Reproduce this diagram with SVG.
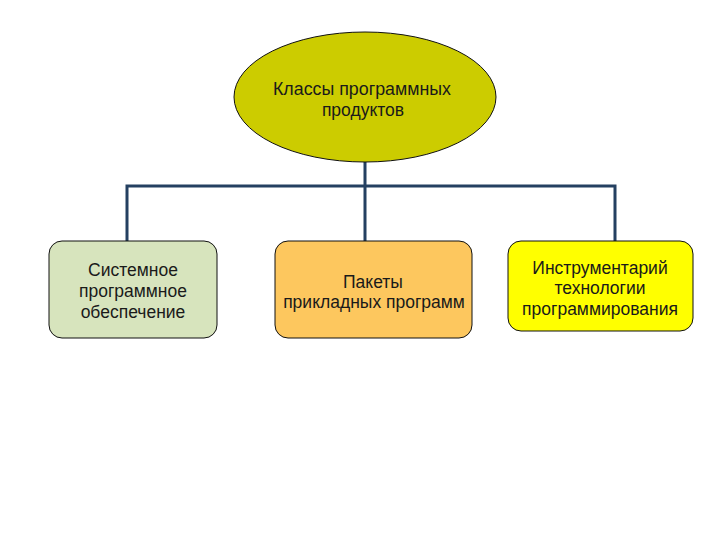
<svg xmlns="http://www.w3.org/2000/svg" width="720" height="540" viewBox="0 0 720 540">
<style>
.t{font-family:"Liberation Sans",Arial,sans-serif;fill:#1a1a1a;text-anchor:middle;font-size:17.5px}
.box{stroke:#111;stroke-width:1}
.c{fill:none;stroke:#254061;stroke-width:3}
</style>
<rect width="720" height="540" fill="#fff"/>
<g id="connectors">
<path class="c" d="M365 162V186M127 242V186H615V242M365 186V242"/>
</g>
<g id="root">
<ellipse cx="365" cy="97" rx="131" ry="65" fill="#CCCC00" stroke="#111" stroke-width="1"/>
<text class="t" x="362" y="95" textLength="178" lengthAdjust="spacingAndGlyphs">Классы программных</text>
<text class="t" x="363" y="116">продуктов</text>
</g>
<g id="system">
<rect class="box" x="49" y="241" width="168" height="97" rx="13" fill="#D7E4BD"/>
<text class="t" x="133" y="276">Системное</text>
<text class="t" x="133" y="297">программное</text>
<text class="t" x="133" y="318">обеспечение</text>
</g>
<g id="packages">
<rect class="box" x="275" y="241" width="197" height="97" rx="13" fill="#FDC75E"/>
<text class="t" x="373" y="288">Пакеты</text>
<text class="t" x="374" y="308">прикладных программ</text>
</g>
<g id="tools">
<rect class="box" x="508" y="241" width="185" height="90" rx="13" fill="#FFFF00"/>
<text class="t" x="600" y="274">Инструментарий</text>
<text class="t" x="600" y="294">технологии</text>
<text class="t" x="600" y="315">программирования</text>
</g>
</svg>
